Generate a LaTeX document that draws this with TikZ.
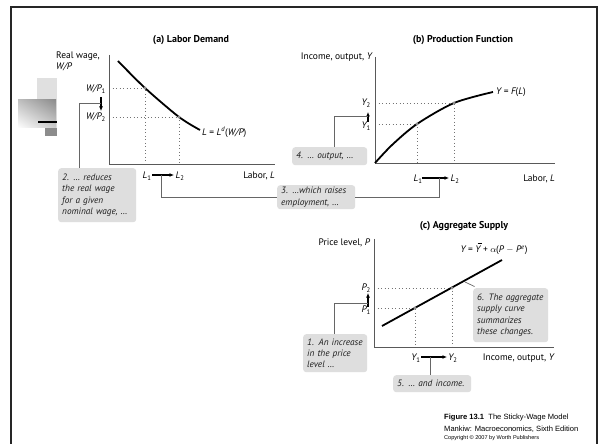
\documentclass[tikz,border=0pt]{standalone}
\usepackage{fontspec}
\setmainfont{PT Sans}
\newfontfamily\capfont{Liberation Sans}
\usetikzlibrary{arrows.meta,shadings}
\newcommand{\barY}{\makebox[0pt][l]{\hspace{0.22em}\rule[1.95ex]{0.5em}{0.5pt}}Y}
\begin{document}
\begin{tikzpicture}[x=1bp,y=-1bp,
 axisline/.style={draw=black!65, line width=0.9bp},
 curveline/.style={line width=1.8bp, black},
 dotline/.style={draw=black!55, line width=0.9bp, dash pattern=on 0.9bp off 2.6bp},
 note/.style={fill=black!13, rounded corners=3bp, font=\fontsize{9.3}{11.3}\selectfont\itshape, align=left, anchor=north west, inner xsep=4bp, inner ysep=2bp, text=black!88},
 lab/.style={font=\fontsize{9.5}{10.5}\selectfont, text=black, inner sep=0pt},
 ttl/.style={font=\fontsize{10}{12}\selectfont\bfseries, text=black, inner sep=0pt},
 conn/.style={draw=black!60, line width=0.7bp},
 move/.style={-{Latex[length=4.5bp,width=4bp]}, line width=1.3bp, black},
 mk/.style={fill=black!45},
 captext/.style={font=\capfont\fontsize{7.6}{9}\selectfont, anchor=west, inner sep=0pt}
]
\useasboundingbox (0,0) rectangle (600,444);
\fill[white] (0,0) rectangle (600,444);
% frame
\draw[line width=2.4bp, black!85] (11,450) -- (11,7) -- (597,7) -- (597,450);
% left decoration
\fill[black!12] (37,78) rectangle (57,128);
\shade[upper right=black!45, upper left=black!25, lower left=white, lower right=black!20] (18,100) rectangle (56,128);
\fill[black!45] (45,128) rectangle (57,136);
\draw[line width=1.1bp, black] (38,122) -- (57,122);

% ---------- (a) Labor Demand ----------
\node[ttl] (ta) at (191,40) {(a) Labor Demand};
\coordinate (Ao) at (109,164);
\coordinate (Ay) at (109,55);
\coordinate (Ax) at (275,164);
\coordinate (A1) at (145,88);
\coordinate (A2) at (179,117);
\draw[dotline] (A1 -| Ao) -- (A1) -- (A1 |- Ao);
\draw[dotline] (A2 -| Ao) -- (A2) -- (A2 |- Ao);
\draw[axisline] (Ay) -- (Ao) -- (Ax);
\draw[curveline] plot[smooth] coordinates {(118,61) (145,88) (179,117) (200,130)};
\fill[mk] (A1) circle (1.6);
\fill[mk] (A2) circle (1.6);
\node[lab, anchor=north west, align=left] (ya) at (56,52) {Real wage,\\\itshape W/P};
\node[lab, anchor=east] (wp1) at (106,89) {\itshape W/P\textsubscript{\upshape 1}};
\node[lab, anchor=east] (wp2) at (106,117) {\itshape W/P\textsubscript{\upshape 2}};
\node[lab, anchor=west] (ld) at (202,132) {\itshape L \upshape= \itshape L\textsuperscript{d}\upshape(\itshape W/P\upshape)};
\node[lab] (la1) at (147,176) {\itshape L\textsubscript{\upshape 1}};
\node[lab] (la2) at (180,176) {\itshape L\textsubscript{\upshape 2}};
\node[lab, anchor=east] (xa) at (275,176) {Labor, \itshape L};
\coordinate (wpT) at (101,97);
\coordinate (wpB) at (101,111);
\coordinate (wpJ) at (101,103);
\draw[move] (wpT) -- (wpB);
\coordinate (laS) at (152,175);
\coordinate (laE) at (174,175);
\coordinate (laJ) at (161,175);
\draw[move] (laS) -- (laE);

% ---------- (b) Production Function ----------
\node[ttl] (tb) at (463,40) {(b) Production Function};
\coordinate (Bo) at (375,163);
\coordinate (By) at (375,57);
\coordinate (Bx) at (555,163);
\coordinate (B1) at (417,124);
\coordinate (B2) at (454,103);
\draw[dotline] (B1 -| Bo) -- (B1) -- (B1 |- Bo);
\draw[dotline] (B2 -| Bo) -- (B2) -- (B2 |- Bo);
\draw[axisline] (By) -- (Bo) -- (Bx);
\draw[curveline] plot[smooth] coordinates {(375,163) (392,145) (417,124) (454,103) (493,92)};
\fill[mk] (B1) circle (1.6);
\fill[mk] (B2) circle (1.6);
\node[lab, anchor=east] (yb) at (372,57) {Income, output, \itshape Y};
\node[lab, anchor=east] (y2) at (371,103) {\itshape Y\textsubscript{\upshape 2}};
\node[lab, anchor=east] (y1) at (371,126) {\itshape Y\textsubscript{\upshape 1}};
\node[lab, anchor=west] (fl) at (496,92) {\itshape Y \upshape= \itshape F\upshape(\itshape L\upshape)};
\node[lab] (lb1) at (418,179) {\itshape L\textsubscript{\upshape 1}};
\node[lab] (lb2) at (455,179) {\itshape L\textsubscript{\upshape 2}};
\node[lab, anchor=east] (xb) at (555,179) {Labor, \itshape L};
\coordinate (ybS) at (368,122);
\coordinate (ybE) at (368,112);
\coordinate (ybJ) at (368,116);
\draw[move] (ybS) -- (ybE);
\coordinate (lbS) at (422,178);
\coordinate (lbE) at (449,178);
\coordinate (lbJ) at (439,178);
\draw[move] (lbS) -- (lbE);

% ---------- (c) Aggregate Supply ----------
\node[ttl] (tc) at (464,226) {(c) Aggregate Supply};
\coordinate (Co) at (374,347);
\coordinate (Cy) at (374,239);
\coordinate (Cx) at (554,347);
\coordinate (C1) at (415,308);
\coordinate (C2) at (452,288);
\coordinate (Cs) at (382,326);
\coordinate (Ce) at (502,260);
\draw[dotline] (C1 -| Co) -- (C1) -- (C1 |- Co);
\draw[dotline] (C2 -| Co) -- (C2) -- (C2 |- Co);
\draw[axisline] (Cy) -- (Co) -- (Cx);
\draw[curveline] (Cs) -- (Ce);
\fill[mk] (C1) circle (1.6);
\fill[mk] (C2) circle (1.6);
\node[lab, anchor=east] (yc) at (370,243) {Price level, \itshape P};
\node[lab, anchor=east] (p2) at (371,288) {\itshape P\textsubscript{\upshape 2}};
\node[lab, anchor=east] (p1) at (371,310) {\itshape P\textsubscript{\upshape 1}};
\node[lab] (eq) at (494,249) {\itshape Y \upshape= \itshape \barY\upshape{} + $\alpha$(\itshape P \upshape$-$ \itshape P\textsuperscript{e}\upshape)};
\node[lab] (yc1) at (416,358) {\itshape Y\textsubscript{\upshape 1}};
\node[lab] (yc2) at (453,358) {\itshape Y\textsubscript{\upshape 2}};
\node[lab, anchor=east] (xc) at (554,358) {Income, output, \itshape Y};
\coordinate (pcS) at (368,307);
\coordinate (pcE) at (368,293);
\coordinate (pcJ) at (368,303);
\draw[move] (pcS) -- (pcE);
\coordinate (ycS) at (421,357);
\coordinate (ycE) at (447,357);
\coordinate (ycJ) at (430,357);
\draw[move] (ycS) -- (ycE);
\coordinate (asJ) at (465,282);

% ---------- notes ----------
\node[note, text width=70bp, minimum height=54bp] (box2) at (58,168) {2. … reduces\\the real wage\\for a given\\nominal wage, …};
\node[note, text width=70bp, minimum height=24bp] (box3) at (277,185) {3. …which raises\\employment, …};
\node[note, text width=67bp, minimum height=18bp] (box4) at (292,147) {4. … output, …};
\node[note, text width=56bp, minimum height=38bp] (box1) at (303,334) {1. An increase\\in the price\\level …};
\node[note, text width=67bp, minimum height=54bp] (box6) at (473,288) {6. The aggregate\\supply curve\\summarizes\\these changes.};
\node[note, text width=70bp, minimum height=17bp] (box5) at (393,375) {5. … and income.};

% ---------- connectors ----------
\draw[conn] ([xshift=21bp]box2.north west) |- (wpJ);
\draw[conn] (laJ) |- (box3.west);
\draw[conn] (lbJ) |- (box3.east);
\draw[conn] ([xshift=42bp]box4.north west) |- (ybJ);
\draw[conn] ([xshift=31bp]box1.north west) |- (pcJ);
\draw[conn] (ycJ) -- (ycJ |- box5.north);
\draw[conn] (asJ) -- ([shift={(1.5bp,1.5bp)}]box6.north west);

% ---------- caption ----------
\node[captext] (cap1) at (444,418) {\bfseries Figure 13.1\mdseries\ \ The Sticky-Wage Model};
\node[captext] (cap2) at (444,429) {Mankiw: Macroeconomics, Sixth Edition};
\node[captext, font=\capfont\fontsize{5.6}{7}\selectfont] (cap3) at (444,438) {Copyright © 2007 by Worth Publishers};
\end{tikzpicture}
\end{document}
